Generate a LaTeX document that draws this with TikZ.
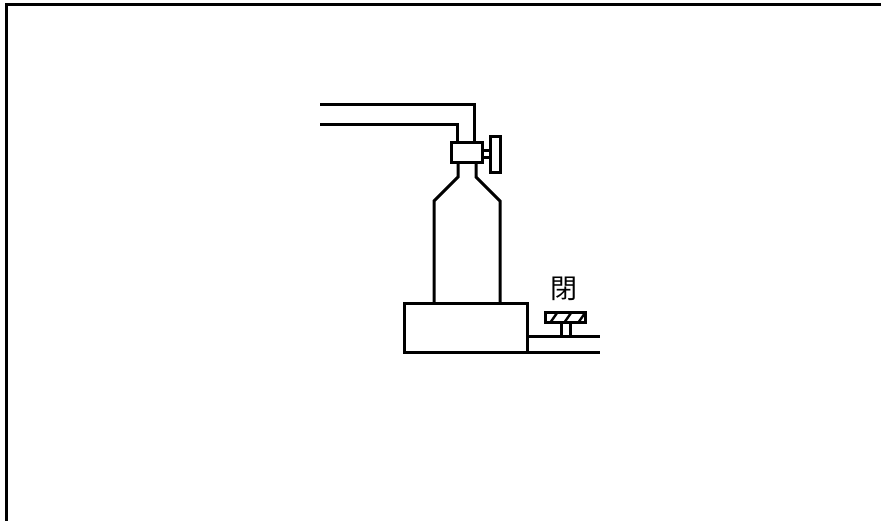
\documentclass[tikz,border=0pt]{standalone}
\usepackage{fontspec}
\newfontfamily\cjk{Noto Sans CJK JP}
\begin{document}
\begin{tikzpicture}[x=1pt,y=-1pt,
  outline/.style={black,line width=3pt},
  hatch/.style={black,line width=2.4pt},
  every node/.style={font=\cjk\fontsize{27}{29}\selectfont}]
  \useasboundingbox (0,0) rectangle (881,521);

  % The frame runs off the right and bottom of the picture.
  \draw[outline] (6,521) -- (6,5) -- (881,5);

  % Pipes from the left into the valve.
  \draw[outline] (320,105) -- (474,105) -- (474,143);
  \draw[outline] (320,125) -- (457,125) -- (457,143);

  % Valve and its handwheel.
  \draw[outline] (451,143) rectangle (482,163);
  \draw[outline] (482,151) rectangle (490,158);
  \draw[outline] (490,137) rectangle (500,173);

  % Cylinder body with neck and shoulders.
  \draw[outline] (458,163) -- (458,177) -- (434,201) -- (434,304);
  \draw[outline] (476,163) -- (476,177) -- (500,201) -- (500,304);

  % Base and the outlet pipe.
  \draw[outline] (404,304) rectangle (527,353);
  \draw[outline] (527,337) -- (600,337);
  \draw[outline] (527,353) -- (600,353);

  % Shut-off knob, its cap is hatched.
  \draw[outline] (561,323) rectangle (570,337);
  \draw[outline] (545,313) rectangle (585,323);
  \foreach \x in {552,566,580}
    \draw[hatch] (\x-2,323) -- (\x+5,313);

  \node (shut) at (564,288.5) {閉};
\end{tikzpicture}
\end{document}
